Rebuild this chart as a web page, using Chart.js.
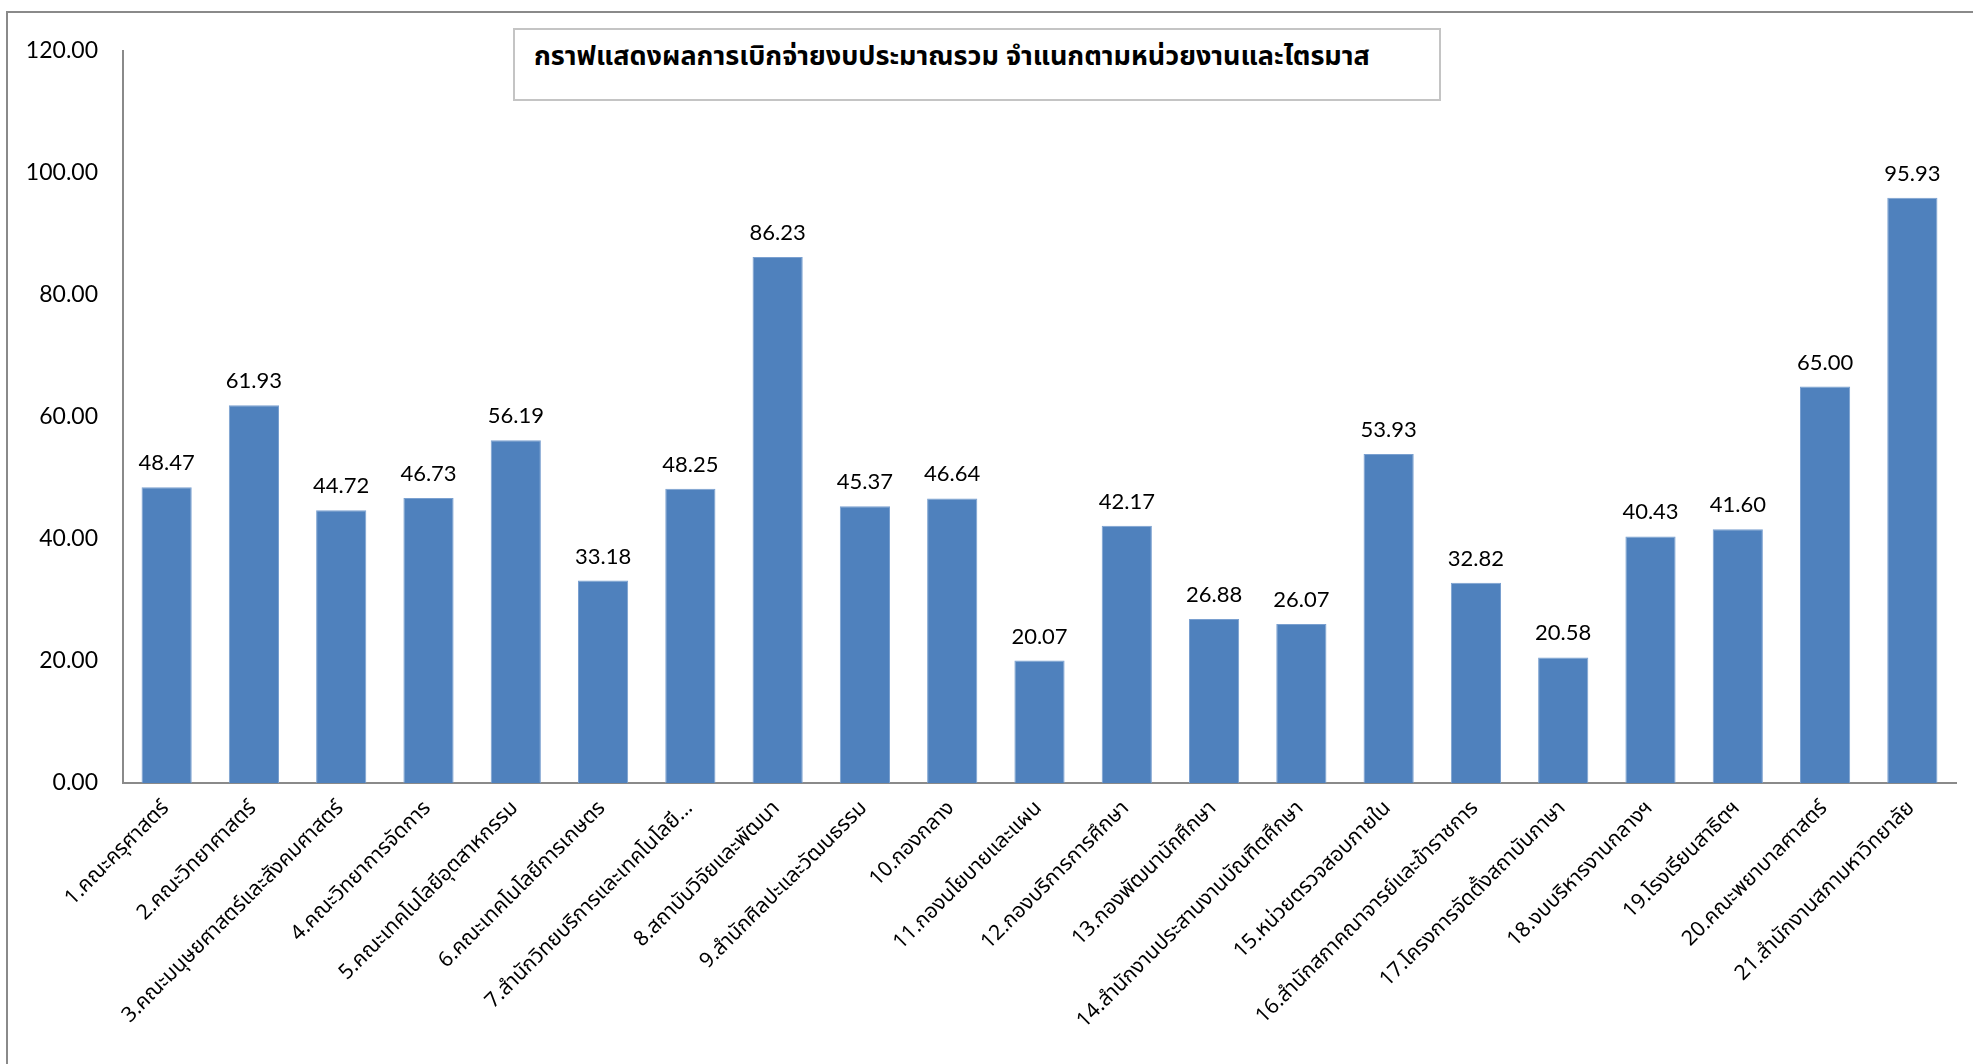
<!DOCTYPE html>
<html>
<head>
<meta charset="utf-8">
<script src="https://cdn.jsdelivr.net/npm/chart.js@4"></script>
<style>
  html, body { margin: 0; padding: 0; background: #fff; }
  #wrap { position: relative; width: 1973px; height: 1064px; overflow: hidden; }
  #frame { position: absolute; left: 6px; top: 11px; width: 2000px; height: 1100px;
           border-top: 2px solid #8a8a8a; border-left: 2px solid #8a8a8a; }
  #titleBox { position: absolute; left: 513px; top: 28px; width: 924px; height: 69px;
              border: 2px solid #c4c4c4; background: #fff;
              font-family: Tahoma, "Noto Sans Thai", "Noto Sans", sans-serif; font-weight: bold;
              font-size: 27px; color: #000; }
  #titleBox span { position: absolute; top: 6px; left: 19px; white-space: nowrap; }
  canvas { position: absolute; left: 0; top: 0; }
</style>
</head>
<body>
<div id="wrap">
  <div id="frame"></div>
  <canvas id="myChart" width="1973" height="1064"></canvas>
  <div id="titleBox"><span>กราฟแสดงผลการเบิกจ่ายงบประมาณรวม จำแนกตามหน่วยงานและไตรมาส</span></div>
</div>
<script>
const units = [
    '1.คณะครุศาสตร์',
    '2.คณะวิทยาศาสตร์',
    '3.คณะมนุษยศาสตร์และสังคมศาสตร์',
    '4.คณะวิทยาการจัดการ',
    '5.คณะเทคโนโลยีอุตสาหกรรม',
    '6.คณะเทคโนโลยีการเกษตร',
    '7.สำนักวิทยบริการและเทคโนโลยี...',
    '8.สถาบันวิจัยและพัฒนา',
    '9.สำนักศิลปะและวัฒนธรรม',
    '10.กองกลาง',
    '11.กองนโยบายและแผน',
    '12.กองบริการการศึกษา',
    '13.กองพัฒนานักศึกษา',
    '14.สำนักงานประสานงานบัณฑิตศึกษา',
    '15.หน่วยตรวจสอบภายใน',
    '16.สำนักสภาคณาจารย์และข้าราชการ',
    '17.โครงการจัดตั้งสถาบันภาษา',
    '18.งบบริหารงานกลางฯ',
    '19.โรงเรียนสาธิตฯ',
    '20.คณะพยาบาลศาสตร์',
    '21.สำนักงานสภามหาวิทยาลัย'
];
const spent = [48.47, 61.93, 44.72, 46.73, 56.19, 33.18, 48.25, 86.23, 45.37, 46.64, 20.07,
               42.17, 26.88, 26.07, 53.93, 32.82, 20.58, 40.43, 41.60, 65.00, 95.93];
const yTicks = [0, 20, 40, 60, 80, 100, 120];

const numFont = '"Lato", "Noto Sans", sans-serif';
const thaiFont = 'Tahoma, "Noto Sans Thai", "Noto Sans", sans-serif';

// value labels above each bar
const valueLabels = {
    id: 'valueLabels',
    afterDatasetsDraw(chart) {
        const ctx = chart.ctx;
        const meta = chart.getDatasetMeta(0);
        ctx.save();
        ctx.font = '22px ' + numFont;
        ctx.fillStyle = '#000';
        ctx.textAlign = 'center';
        ctx.textBaseline = 'alphabetic';
        meta.data.forEach(function (bar, i) {
            ctx.fillText(spent[i].toFixed(2), bar.x, bar.y - 17);
        });
        ctx.restore();
    }
};

const ctx = document.getElementById('myChart').getContext('2d');
const myChart = new Chart(ctx, {
    type: 'bar',
    data: {
        labels: units,
        datasets: [{
            data: spent,
            backgroundColor: '#4f81bd',
            borderColor: '#7aa0d0',
            borderWidth: { left: 1, right: 1, top: 1, bottom: 0 },
            categoryPercentage: 0.575,
            barPercentage: 1.0
        }]
    },
    options: {
        responsive: false,
        devicePixelRatio: 1,
        animation: false,
        layout: {
            padding: { left: 0, top: 51, right: 17, bottom: 0 }
        },
        plugins: {
            legend: { display: false },
            tooltip: { enabled: false }
        },
        scales: {
            x: {
                grid: { display: false, drawTicks: false },
                border: { display: true, color: '#8a8a8a', width: 2 },
                ticks: {
                    color: '#000',
                    font: { family: thaiFont, size: 21 },
                    minRotation: 45,
                    maxRotation: 45,
                    autoSkip: false,
                    padding: 14
                },
                afterFit(scale) { scale.height = 281; }
            },
            y: {
                min: 0,
                max: 120,
                grid: { display: false, drawTicks: false },
                border: { display: true, color: '#8a8a8a', width: 2 },
                afterBuildTicks(scale) {
                    scale.ticks = yTicks.map(v => ({ value: v }));
                },
                ticks: {
                    color: '#000',
                    font: { family: numFont, size: 23 },
                    padding: 25,
                    callback: v => Number(v).toFixed(2)
                },
                afterFit(scale) { scale.width = 123; }
            }
        }
    },
    plugins: [valueLabels]
});
</script>
</body>
</html>
